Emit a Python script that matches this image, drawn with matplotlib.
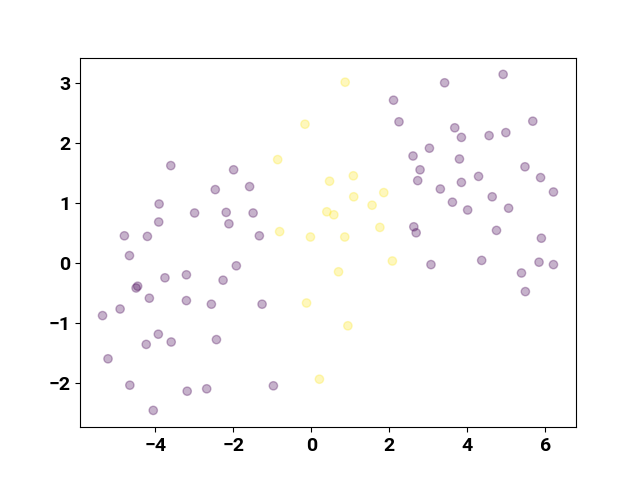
import matplotlib
matplotlib.use("Agg")
import matplotlib.pyplot as plt
import numpy as np

plt.rcParams['font.family'] = ['Roboto', 'DejaVu Sans']
plt.rcParams['font.weight'] = 'bold'
plt.rcParams['font.size'] = 14

# class 1 (yellow)
x1 = [-0.16, -0.86, 0.47, 0.40, -0.81, -0.02, -0.12, 0.21, 0.87, 1.08, 1.86, 1.09,
      1.56, 0.58, 1.76, 0.86, 2.08, 0.70, 0.94]
y1 = [2.32, 1.73, 1.37, 0.86, 0.53, 0.44, -0.66, -1.93, 3.02, 1.46, 1.18, 1.11,
      0.97, 0.81, 0.60, 0.44, 0.04, -0.14, -1.04]

# class 0 (purple)
x0 = [-3.60, -1.99, -2.46, -1.58, -3.90, -3.91, -2.99, -2.18, -1.49, -2.11, -4.79, -4.20, -1.33,
      -4.66, -1.92, -3.75, -3.20, -2.26, -4.45, -4.49, -4.15, -3.20, -2.56, -1.26, -4.90, -5.35,
      -3.92, -4.23, -3.59, -2.43, -5.21, -4.65, -3.18, -2.68, -0.97, -4.05,
      3.42, 4.92, 2.11, 2.25, 3.68, 3.85, 4.56, 4.99, 5.68, 3.03, 2.61, 3.80, 2.79, 2.73,
      5.48, 5.88, 6.21, 4.29, 3.85, 3.31, 3.62, 4.01, 4.64, 5.06, 2.63, 2.69, 4.75, 5.90,
      3.07, 4.37, 5.84, 6.21, 5.39, 5.49]
y0 = [1.63, 1.56, 1.23, 1.28, 0.99, 0.69, 0.84, 0.85, 0.84, 0.66, 0.46, 0.45, 0.46,
      0.13, -0.04, -0.24, -0.19, -0.28, -0.38, -0.41, -0.58, -0.62, -0.68, -0.68, -0.76, -0.87,
      -1.18, -1.35, -1.31, -1.27, -1.59, -2.03, -2.13, -2.09, -2.04, -2.45,
      3.01, 3.15, 2.72, 2.36, 2.26, 2.10, 2.13, 2.18, 2.37, 1.92, 1.79, 1.74, 1.56, 1.38,
      1.61, 1.43, 1.19, 1.45, 1.35, 1.24, 1.02, 0.89, 1.11, 0.92, 0.61, 0.51, 0.55, 0.42,
      -0.02, 0.05, 0.02, -0.02, -0.16, -0.47]

x = np.array(x0 + x1)
y = np.array(y0 + y1)
labels = np.array([0] * len(x0) + [1] * len(x1))

fig, ax = plt.subplots(figsize=(6.4, 4.8), dpi=100)
ax.scatter(x, y, c=labels, cmap='viridis', alpha=0.3)
ax.set_xticks([-4, -2, 0, 2, 4, 6])
ax.set_yticks([-2, -1, 0, 1, 2, 3])
fig.savefig("out.png", dpi=100)
